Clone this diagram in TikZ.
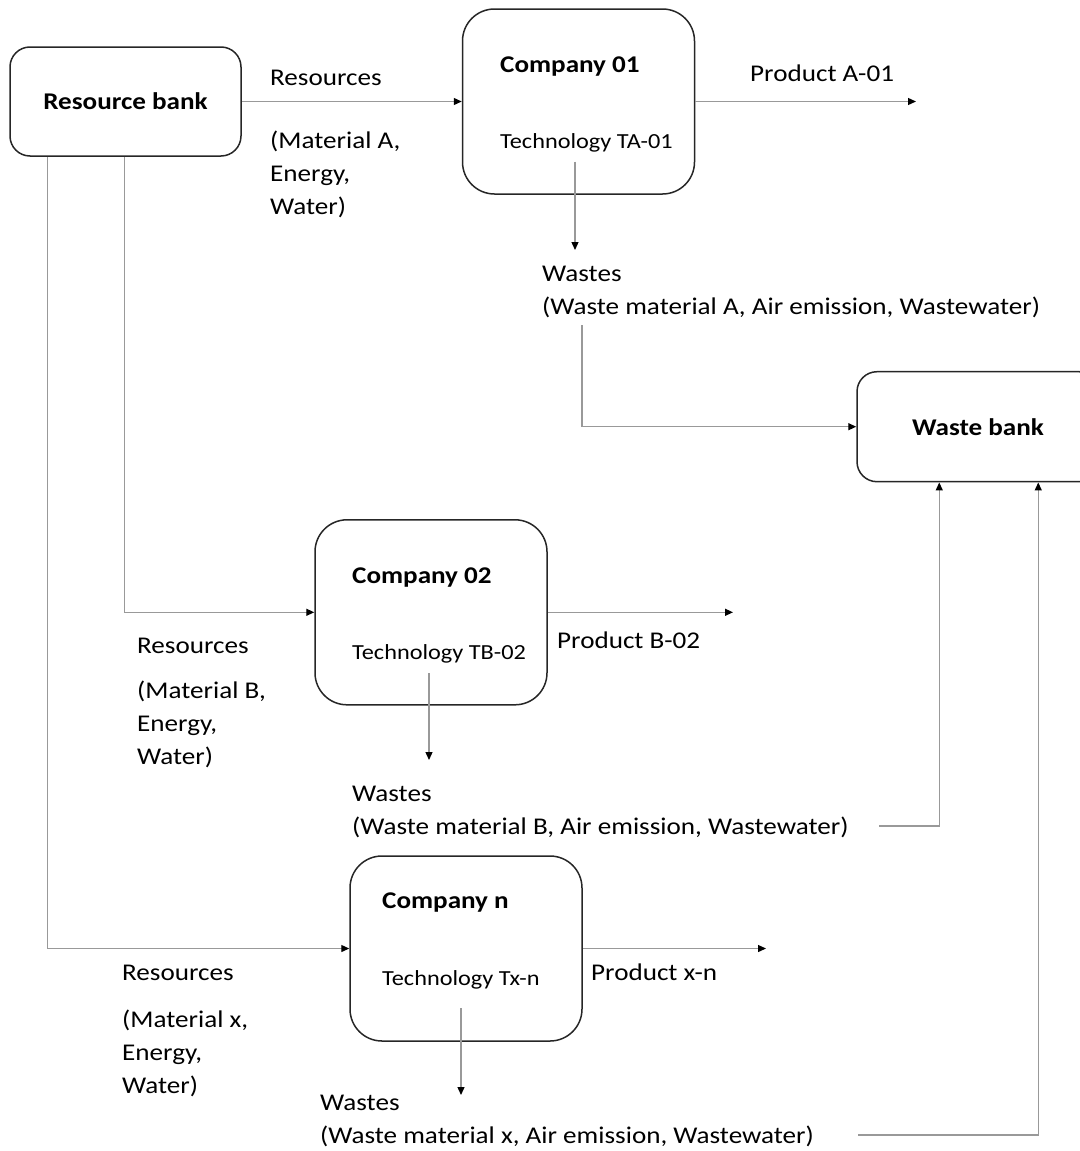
\documentclass[tikz,border=0pt]{standalone}
\usepackage{fontspec}
\setmainfont{Carlito}[FakeStretch=1.13]
\usetikzlibrary{arrows.meta}

\begin{document}
\begin{tikzpicture}[x=1pt,y=-1pt,
    bank/.style={draw=black!85,line width=1.5pt,rounded corners=20pt,font=\bfseries\fontsize{24}{29}\selectfont},
    firm/.style={draw=black!85,line width=1.5pt,rounded corners=32pt,minimum width=232pt,minimum height=185pt},
    txt/.style={anchor=base west,inner sep=0pt,align=left,font=\fontsize{24}{33}\selectfont},
    title/.style={txt,font=\bfseries\fontsize{24}{29}\selectfont},
    tech/.style={anchor=base west,inner sep=0pt,font=\fontsize{21.5}{26}\selectfont},
    flow/.style={draw=gray!80,line width=1.3pt,-{Triangle[length=8pt,width=7pt,color=black,fill=black]}}]
  \useasboundingbox (0,0) rectangle (1079,1151);

  \node[bank,minimum width=231pt,minimum height=109pt] (rb) at (125.5,101.5) {Resource bank};
  \node[bank,minimum width=242pt,minimum height=110pt] (wb) at (978,426.7) {Waste bank};

  \node[firm] (c1) at (578.5,101.5) {};
  \node[title] (c1t) at (500,72.5) {Company 01};
  \node[tech] (c1x) at (500,148) {Technology TA-01};

  \node[firm] (c2) at (431,612.3) {};
  \node[title] (c2t) at (352,583.3) {Company 02};
  \node[tech] (c2x) at (352,659.3) {Technology TB-02};

  \node[firm] (cn) at (466,948.5) {};
  \node[title] (cnt) at (382,908) {Company n};
  \node[tech] (cnx) at (382,985.7) {Technology Tx-n};

  \node[txt] (rA) at (270,85) {Resources};
  \node[txt] (mA) at (270,214) {(Material A,\\Energy,\\Water)};
  \node[txt] (rB) at (137,653) {Resources};
  \node[txt] (mB) at (137,764) {(Material B,\\Energy,\\Water)};
  \node[txt] (rX) at (122,980.7) {Resources};
  \node[txt] (mX) at (122,1093) {(Material x,\\Energy,\\Water)};

  \node[txt] (pA) at (750,81.7) {Product A-01};
  \node[txt] (pB) at (557,648) {Product B-02};
  \node[txt] (pX) at (591,980) {Product x-n};

  \node[txt] (wA) at (542,314) {Wastes\\(Waste material A, Air emission, Wastewater)};
  \node[txt] (wB) at (352,834.7) {Wastes\\(Waste material B, Air emission, Wastewater)};
  \node[txt] (wX) at (320,1143.5) {Wastes\\(Waste material x, Air emission, Wastewater)};

  \coordinate (pAend) at (916,101.5);
  \coordinate (pBend) at (733,612.3);
  \coordinate (pXend) at (766,948.5);
  \coordinate (dA1) at (575,161.7);
  \coordinate (dA2) at (575,250);
  \coordinate (dB1) at (429,673);
  \coordinate (dB2) at (429,760);
  \coordinate (dX1) at (461,1008);
  \coordinate (dX2) at (461,1095);
  \coordinate (uA) at (582,325);
  \coordinate (uB) at (879,826);
  \coordinate (uX) at (858,1135);

  \draw[flow] (rb.east) -- (c1.west);
  \draw[flow] ([xshift=115pt]rb.south west) |- (c2.west);
  \draw[flow] ([xshift=38pt]rb.south west) |- (cn.west);

  \draw[flow] (c1.east) -- (pAend);
  \draw[flow] (c2.east) -- (pBend);
  \draw[flow] (cn.east) -- (pXend);

  \draw[flow] (dA1) -- (dA2);
  \draw[flow] (dB1) -- (dB2);
  \draw[flow] (dX1) -- (dX2);

  \draw[flow] (uA) |- (wb.west);
  \draw[flow] (uB) -| ([xshift=83pt]wb.south west);
  \draw[flow] (uX) -| ([xshift=182pt]wb.south west);
\end{tikzpicture}
\end{document}
